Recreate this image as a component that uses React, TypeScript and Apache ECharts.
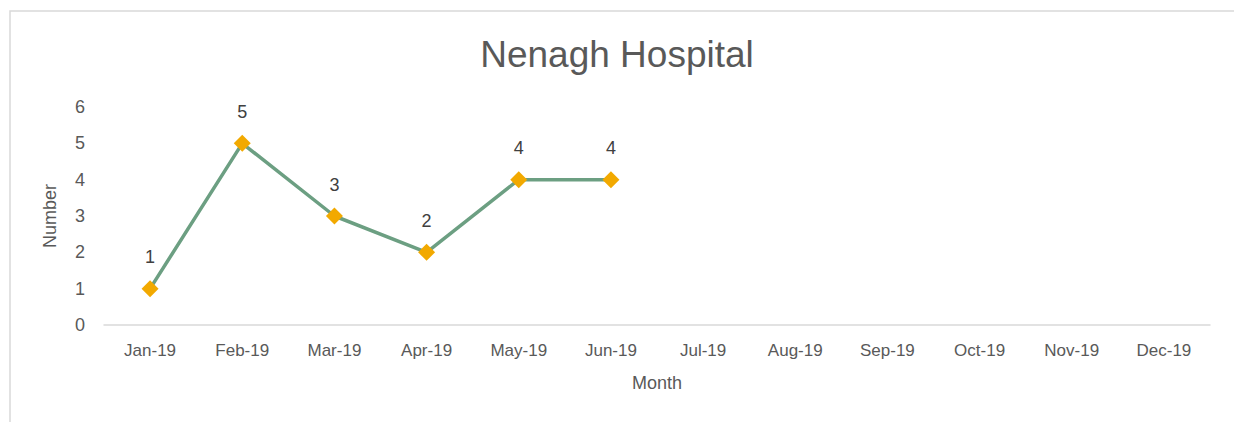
import React, { useEffect, useRef } from "react";
import * as echarts from "echarts";

const months = ["Jan-19", "Feb-19", "Mar-19", "Apr-19", "May-19", "Jun-19", "Jul-19", "Aug-19", "Sep-19", "Oct-19", "Nov-19", "Dec-19"];
const counts: (number | null)[] = [1, 5, 3, 2, 4, 4, null, null, null, null, null, null];
const titleText = "Nenagh Hospital";
const yName = "Number";
const xName = "Month";

const FONT = "'Liberation Sans', Arial, sans-serif";

export default function App() {
  const ref = useRef<HTMLDivElement>(null);
  useEffect(() => {
    if (!ref.current) return;
    const chart = echarts.init(ref.current, undefined, { renderer: "svg" });
    chart.setOption({
      animation: false,
      backgroundColor: "#ffffff",
      textStyle: { fontFamily: FONT },
      title: {
        text: titleText,
        left: "center",
        top: 31,
        textStyle: { fontFamily: FONT, fontSize: 37, fontWeight: "normal", color: "#595959" },
      },
      graphic: [
        {
          type: "rect",
          shape: { x: 10, y: 11, width: 1400, height: 600 },
          style: { fill: "none", stroke: "#d9d9d9", lineWidth: 1.5 },
          silent: true,
        },
      ],
      grid: { left: 104, right: 24, top: 107, bottom: 97, containLabel: false },
      xAxis: {
        type: "category",
        data: months,
        boundaryGap: true,
        name: xName,
        nameLocation: "middle",
        nameGap: 49,
        nameTextStyle: { fontFamily: FONT, fontSize: 18, color: "#595959" },
        axisLine: { show: true, lineStyle: { color: "#d9d9d9", width: 1.5 } },
        axisTick: { show: false },
        axisLabel: { fontFamily: FONT, fontSize: 17, color: "#595959", margin: 17, interval: 0 },
        splitLine: { show: false },
      },
      yAxis: {
        type: "value",
        min: 0,
        max: 6,
        interval: 1,
        name: yName,
        nameLocation: "middle",
        nameGap: 45,
        nameTextStyle: { fontFamily: FONT, fontSize: 18, color: "#595959" },
        axisLine: { show: false },
        axisTick: { show: false },
        axisLabel: { fontFamily: FONT, fontSize: 18, color: "#595959", margin: 19 },
        splitLine: { show: false },
      },
      series: [
        {
          type: "line",
          data: counts,
          connectNulls: false,
          symbol: "diamond",
          symbolSize: 17,
          itemStyle: { color: "#F2A900" },
          lineStyle: { color: "#6C9F82", width: 3.5 },
          label: {
            show: true,
            position: "top",
            distance: 12,
            fontFamily: FONT,
            fontSize: 18,
            color: "#404040",
            backgroundColor: "#ffffff",
            padding: [2, 6],
          },
          z: 3,
        },
      ],
    });
    return () => chart.dispose();
  }, []);
  return (
    <div
      ref={ref}
      style={{ position: "fixed", left: 0, top: 0, width: 1234, height: 422, background: "#fff" }}
    />
  );
}
